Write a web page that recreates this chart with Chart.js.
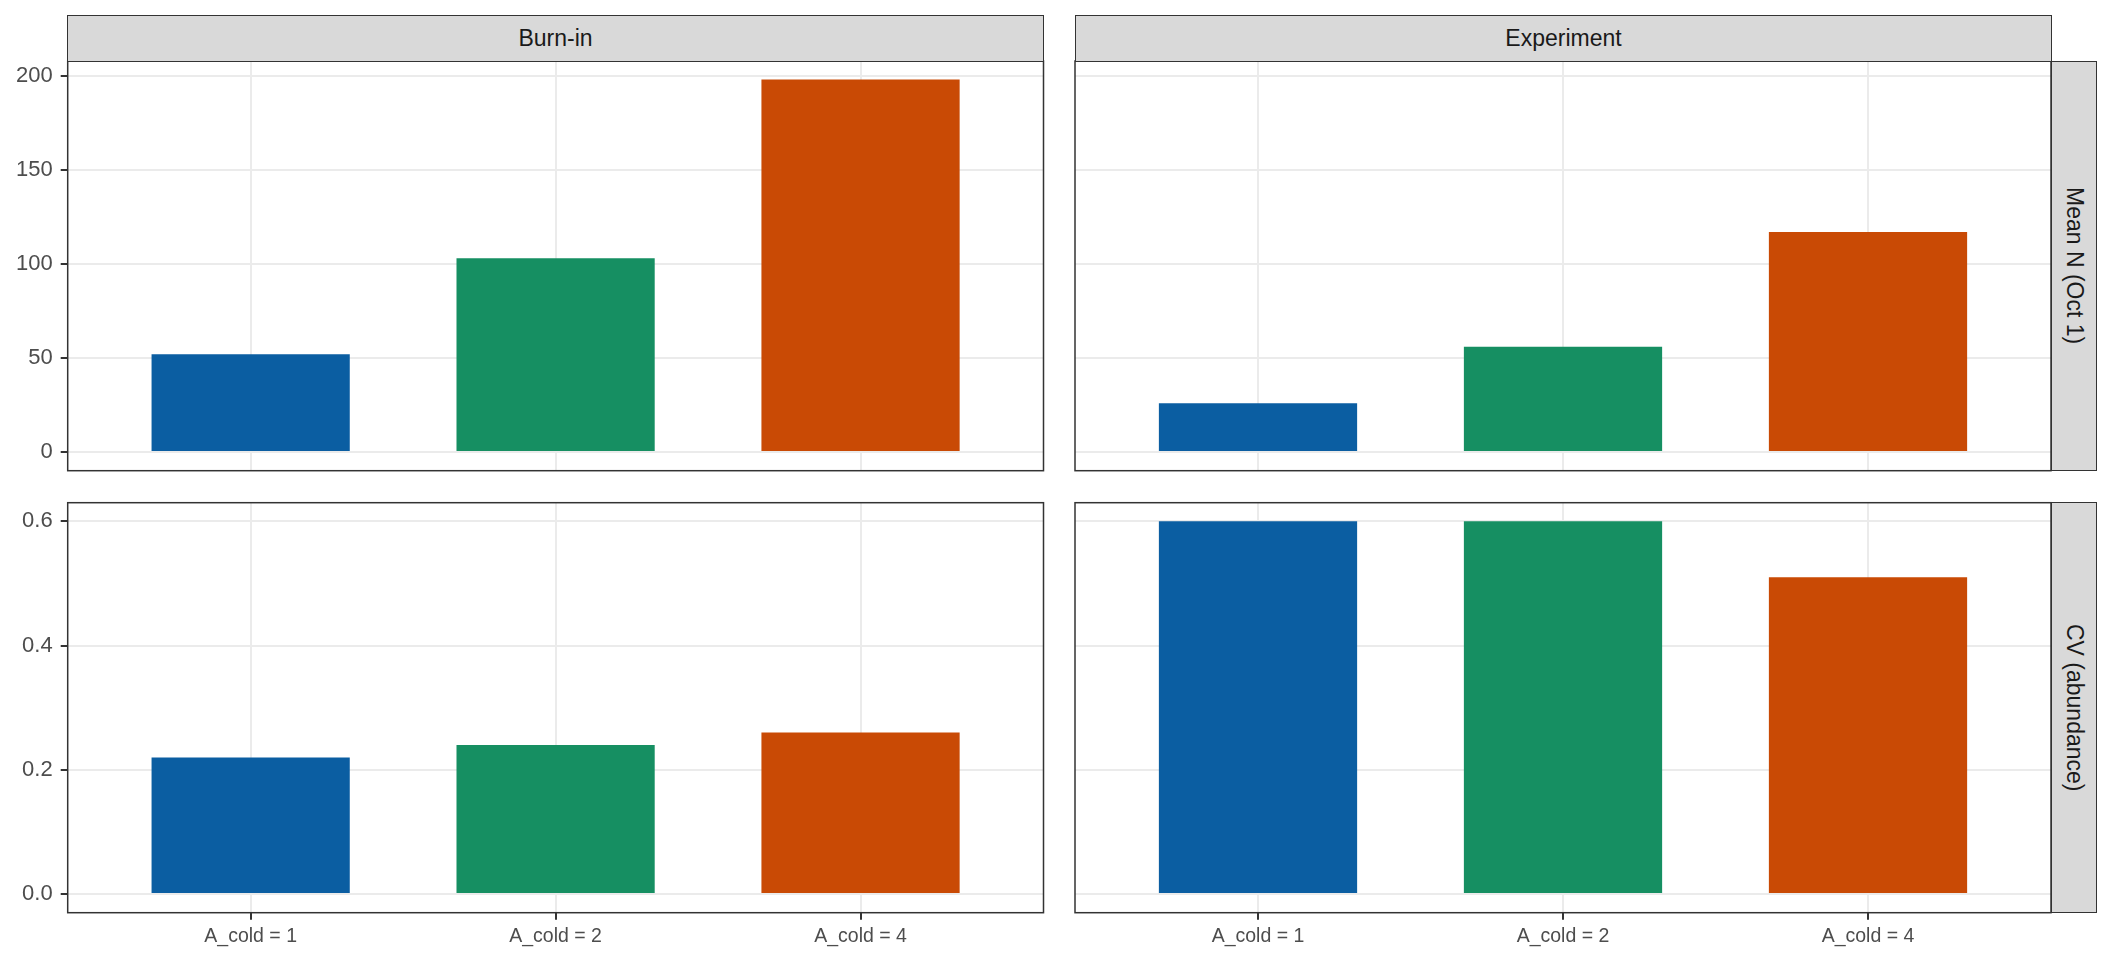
<!DOCTYPE html>
<html><head><meta charset="utf-8">
<script src="https://cdn.jsdelivr.net/npm/chart.js@4.4.0/dist/chart.umd.min.js"></script>
<style>
html,body{margin:0;padding:0;background:#fff;}
#wrap{position:relative;width:2112px;height:960px;overflow:hidden;font-family:"Liberation Sans",Arial,sans-serif;background:#fff;}
canvas.layer{position:absolute;left:0;top:0;pointer-events:none;}
.strip{position:absolute;background:#D9D9D9;border:1.5px solid #333;box-sizing:border-box;color:#1A1A1A;font-size:23px;display:flex;align-items:center;justify-content:center;z-index:5;}
.vt{writing-mode:vertical-rl;}
</style></head><body>
<div id="wrap">
  <canvas class="layer" id="c1" width="2112" height="960"></canvas>
  <canvas class="layer" id="c2" width="2112" height="960"></canvas>
  <canvas class="layer" id="c3" width="2112" height="960"></canvas>
  <canvas class="layer" id="c4" width="2112" height="960"></canvas>
  <div class="strip" id="sColL" style="left:67px;top:15px;width:977px;height:47px;"></div>
  <div class="strip" id="sColR" style="left:1075px;top:15px;width:977px;height:47px;"></div>
  <div class="strip" id="sRowT" style="left:2051px;top:61px;width:46px;height:410px;"><span class="vt" id="tRowT"></span></div>
  <div class="strip" id="sRowB" style="left:2051px;top:502px;width:46px;height:411px;"><span class="vt" id="tRowB"></span></div>
</div>
<script>
// ---- data ----
const categories = ['A_cold = 1', 'A_cold = 2', 'A_cold = 4'];
const phases = ['Burn-in', 'Experiment'];
const metrics = ['Mean N (Oct 1)', 'CV (abundance)'];
const burnInMeanN = [52, 103, 198];
const experimentMeanN = [26, 56, 117];
const burnInCV = [0.22, 0.24, 0.26];
const experimentCV = [0.60, 0.60, 0.51];
const meanNTicks = [0, 50, 100, 150, 200];
const meanNTickLabels = ['0', '50', '100', '150', '200'];
const cvTicks = [0, 0.2, 0.4, 0.6];
const cvTickLabels = ['0.0', '0.2', '0.4', '0.6'];
const barColors = ['#0B5EA2', '#168F62', '#C94A05'];

document.getElementById('sColL').textContent = phases[0];
document.getElementById('sColR').textContent = phases[1];
document.getElementById('tRowT').textContent = metrics[0];
document.getElementById('tRowB').textContent = metrics[1];

Chart.defaults.font.family = '"Liberation Sans", Arial, sans-serif';

const borderPlugin = {
  id: 'panelBorder',
  afterDraw(chart) {
    const a = chart.chartArea, ctx = chart.ctx;
    ctx.save();
    ctx.strokeStyle = '#333333';
    ctx.lineWidth = 1.5;
    ctx.strokeRect(a.left, a.top, a.right - a.left, a.bottom - a.top);
    ctx.restore();
  }
};

function expandRange(allVals) {
  const mx = Math.max(...allVals);
  return [-mx * 0.05, mx * 1.05];
}

const YW = 67.7, XH = 44;
function makePanel(id, values, ticks, tickLabels, range, showY, showX, area) {
  const ctx = document.getElementById(id);
  return new Chart(ctx, {
    type: 'bar',
    data: {
      datasets: [{
        data: values.map((v, i) => ({ x: i + 1, y: v })),
        backgroundColor: barColors,
        borderWidth: 0,
        barPercentage: 0.65,
        categoryPercentage: 1.0
      }]
    },
    options: {
      responsive: false,
      animation: false,
      devicePixelRatio: 1,
      events: [],
      layout: {
        padding: {
          left: area.l - (showY ? YW : 0),
          right: 2112 - area.r,
          top: area.t,
          bottom: 960 - area.b - (showX ? XH : 0)
        }
      },
      plugins: { legend: { display: false }, tooltip: { enabled: false } },
      scales: {
        x: {
          type: 'linear',
          min: 0.4, max: 3.6,
          offset: false,
          afterBuildTicks: s => { s.ticks = categories.map((c, i) => ({ value: i + 1 })); },
          afterFit: s => { s.height = showX ? XH : 0; },
          border: { display: false },
          grid: {
            offset: false,
            color: '#EBEBEB', lineWidth: 2,
            drawTicks: showX, tickLength: 7, tickColor: '#333333', tickWidth: 2
          },
          ticks: {
            display: showX,
            autoSkip: false, maxRotation: 0, minRotation: 0,
            padding: 5,
            color: '#4D4D4D',
            font: { size: 19.5 },
            callback: v => categories[Math.round(v) - 1]
          }
        },
        y: {
          type: 'linear',
          min: range[0], max: range[1],
          afterBuildTicks: s => { s.ticks = ticks.map(v => ({ value: v })); },
          afterFit: s => { s.width = showY ? YW : 0; },
          border: { display: false },
          grid: {
            color: '#EBEBEB', lineWidth: 2,
            drawTicks: showY, tickLength: 7, tickColor: '#333333', tickWidth: 2
          },
          ticks: {
            display: showY,
            padding: 8,
            color: '#4D4D4D',
            font: { size: 22 },
            callback: (v) => { const k = ticks.findIndex(t => Math.abs(t - v) < 1e-9); return k >= 0 ? tickLabels[k] : ''; }
          }
        }
      }
    },
    plugins: [borderPlugin]
  });
}

const colL = { l: 67.7, r: 1043.5 }, colR = { l: 1075, r: 2051 };
const rowT = { t: 61, b: 470.7 }, rowB = { t: 502.7, b: 912.7 };
const meanRange = expandRange(burnInMeanN.concat(experimentMeanN));
const cvRange = expandRange(burnInCV.concat(experimentCV));

makePanel('c1', burnInMeanN, meanNTicks, meanNTickLabels, meanRange, true, false, { l: colL.l, r: colL.r, t: rowT.t, b: rowT.b });
makePanel('c2', experimentMeanN, meanNTicks, meanNTickLabels, meanRange, false, false, { l: colR.l, r: colR.r, t: rowT.t, b: rowT.b });
makePanel('c3', burnInCV, cvTicks, cvTickLabels, cvRange, true, true, { l: colL.l, r: colL.r, t: rowB.t, b: rowB.b });
makePanel('c4', experimentCV, cvTicks, cvTickLabels, cvRange, false, true, { l: colR.l, r: colR.r, t: rowB.t, b: rowB.b });
</script>
</body></html>
